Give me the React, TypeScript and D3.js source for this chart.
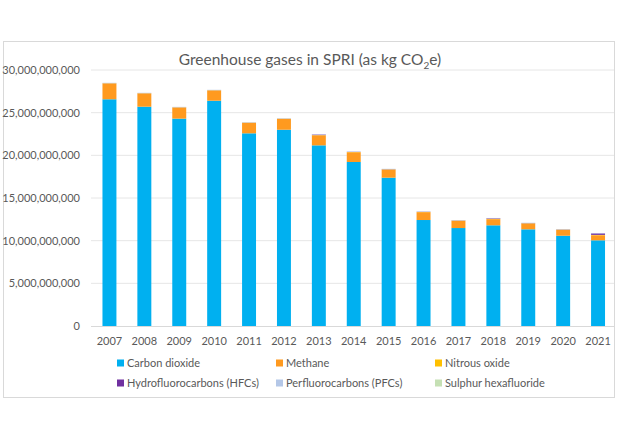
import React from "react";
import * as d3 from "d3";

const years = ["2007","2008","2009","2010","2011","2012","2013","2014","2015","2016","2017","2018","2019","2020","2021"];
const seriesNames = ["Carbon dioxide","Methane","Nitrous oxide","Hydrofluorocarbons (HFCs)","Perfluorocarbons (PFCs)","Sulphur hexafluoride"];
const seriesColors = ["#00B0F0","#FF9A1F","#FFC000","#7030A0","#B4C7E7","#C5E0B4"];
// values in kg CO2e
const carbonDioxide = [26.57e9,25.7e9,24.3e9,26.4e9,22.58e9,23.0e9,21.17e9,19.22e9,17.38e9,12.42e9,11.48e9,11.8e9,11.33e9,10.58e9,10.04e9];
const methane = [1.85e9,1.55e9,1.3e9,1.2e9,1.22e9,1.26e9,1.17e9,1.14e9,0.95e9,0.92e9,0.84e9,0.72e9,0.68e9,0.69e9,0.59e9];
const nitrousOxide = [0.03e9,0.03e9,0.03e9,0.03e9,0.03e9,0.03e9,0.03e9,0.03e9,0.03e9,0.03e9,0.03e9,0.04e9,0.03e9,0.03e9,0.05e9];
const hfcs = [0.01e9,0.01e9,0.01e9,0.01e9,0.01e9,0.01e9,0.06e9,0.02e9,0.02e9,0.02e9,0.02e9,0.06e9,0.02e9,0.02e9,0.17e9];
const pfcs = [0.04e9,0.04e9,0.04e9,0.04e9,0.04e9,0.04e9,0.04e9,0.04e9,0.04e9,0.04e9,0.04e9,0.04e9,0.04e9,0.04e9,0.04e9];
const sf6 = [0,0,0,0,0,0,0,0,0,0,0,0,0,0,0];
const yTicks = [0,5e9,10e9,15e9,20e9,25e9,30e9];

const W = 620, H = 440;
const FONT = "Lato, 'Open Sans', sans-serif";
const TXT = "#595959";

export default function App() {
  const seriesData = [carbonDioxide, methane, nitrousOxide, hfcs, pfcs, sf6];
  const rows = years.map((y, i) => {
    const r: any = { year: y };
    seriesNames.forEach((n, k) => (r[n] = seriesData[k][i]));
    return r;
  });
  const stacked = d3.stack().keys(seriesNames)(rows);
  const x = d3.scaleBand().domain(years).range([92, 615.5]).paddingInner(0.6).paddingOuter(0.3);
  const y = d3.scaleLinear().domain([0, 30e9]).range([326, 70]);
  const fmt = d3.format(",");
  const legendCols = [117, 276, 435];
  const legendRows = [363, 383];
  return (
    <svg width={W} height={H} style={{ position: "absolute", left: 0, top: 0, background: "#fff" }} fontFamily={FONT}>
      <rect x={0} y={0} width={W} height={H} fill="#fff" />
      <rect x={3.5} y={41.5} width={611} height={356} fill="#fff" stroke="#D9D9D9" />
      <text x={310} y={65} textAnchor="middle" fontSize={15.5} fill={TXT}>
        Greenhouse gases in SPRI (as kg CO<tspan fontSize={10} dy={4}>2</tspan><tspan dy={-4}>e)</tspan>
      </text>
      {yTicks.map((t) => (
        <g key={t}>
          {t > 0 && <line x1={91} x2={614} y1={y(t)} y2={y(t)} stroke="#E6E6E6" strokeWidth={1} />}
          <text x={80} y={y(t)} dy="0.35em" textAnchor="end" fontSize={11} fill={TXT}>{fmt(t)}</text>
        </g>
      ))}
      {stacked.map((s, k) => (
        <g key={s.key} fill={seriesColors[k]}>
          {s.map((d, i) => {
            const h = y(d[0]) - y(d[1]);
            return h > 0 ? (
              <rect key={i} x={x(years[i])} width={x.bandwidth()} y={y(d[1])} height={h} />
            ) : null;
          })}
        </g>
      ))}
      <line x1={91} x2={614} y1={y(0) + 0.5} y2={y(0) + 0.5} stroke="#D9D9D9" />
      {years.map((yr) => (
        <text key={yr} x={(x(yr) as number) + x.bandwidth() / 2} y={345} textAnchor="middle" fontSize={11} fill={TXT}>{yr}</text>
      ))}
      {seriesNames.map((n, k) => {
        const cx = legendCols[k % 3];
        const cy = legendRows[Math.floor(k / 3)];
        return (
          <g key={n}>
            <rect x={cx} y={cy - 3.5} width={7} height={7} fill={seriesColors[k]} />
            <text x={cx + 10} y={cy} dy="0.35em" fontSize={11} fill={TXT}>{n}</text>
          </g>
        );
      })}
    </svg>
  );
}
